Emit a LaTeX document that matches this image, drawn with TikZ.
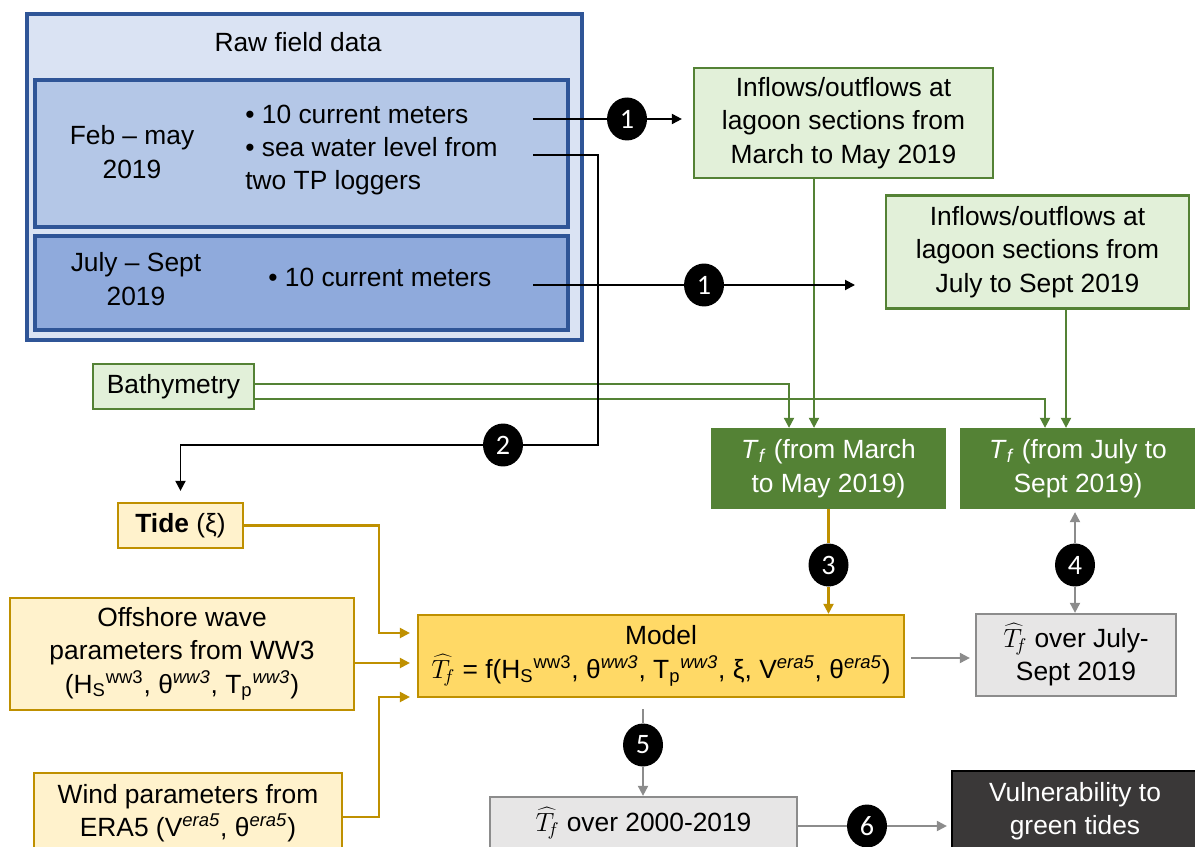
\RequirePackage{fix-cm}
\documentclass[tikz,border=0pt]{standalone}
\usepackage{fontspec}
\setmainfont{Liberation Sans}
\newfontfamily\numfont{Carlito}
\usetikzlibrary{arrows.meta,calc,shapes.geometric}
\definecolor{rawline}{HTML}{2F5597}
\definecolor{rawfill}{HTML}{DAE3F3}
\definecolor{febfill}{HTML}{B4C7E7}
\definecolor{julfill}{HTML}{8FAADC}
\definecolor{grnline}{HTML}{548235}
\definecolor{grnfill}{HTML}{E2F0D9}
\definecolor{goldline}{HTML}{BF9000}
\definecolor{goldfill}{HTML}{FFF2CC}
\definecolor{modelfill}{HTML}{FFD966}
\definecolor{greyline}{HTML}{8C8C8C}
\definecolor{greyfill}{HTML}{E7E6E6}
\definecolor{darkfill}{HTML}{3A3838}

\begin{document}
\begin{tikzpicture}[x=0.02cm,y=-0.02cm,>={Triangle[length=0.2cm,width=0.2cm]},
  every node/.style={font=\fontsize{15}{19}\selectfont},
  txt/.style={inner sep=0pt,align=center},
  box/.style={draw,line width=1.3pt,inner sep=2pt,align=center},
  bluebox/.style={box,draw=rawline,line width=1.8pt},
  greenbox/.style={box,draw=grnline,fill=grnfill},
  tfbox/.style={box,draw=grnline,fill=grnline,text=white},
  goldbox/.style={box,draw=goldline,fill=goldfill},
  greybox/.style={box,draw=greyline,fill=greyfill},
  num/.style={ellipse,fill=black,text=white,minimum width=0.8cm,minimum height=0.86cm,
    inner sep=0pt,font=\numfont\fontsize{16}{16}\selectfont},
  blk/.style={line width=1.1pt,->},
  garr/.style={grnline,line width=1.1pt,->},
  yarr/.style={goldline,line width=1.2pt,->},
  gyarr/.style={greyline,line width=1.1pt,->}]
\useasboundingbox (0,0) rectangle (1195,847);
\clip (0,0) rectangle (1195,847);

% raw field data
\node[bluebox,fill=rawfill,minimum width=11.1cm,minimum height=6.52cm] (raw) at (304.5,177) {};
\node[txt] (rawtitle) at (298,42) {Raw field data};
\node[bluebox,fill=febfill,minimum width=10.66cm,minimum height=2.94cm] (feb) at (301.5,153.5) {};
\node[txt] (febdate) at (132,152) {Feb -- may\\2019};
\node[txt,anchor=west,align=left] (febdata) at (245,150)
  {• 10 current meters\\• sea water level from\\two TP loggers};
\node[bluebox,fill=julfill,minimum width=10.66cm,minimum height=1.88cm] (jul) at (301.5,283) {};
\node[txt] (juldate) at (136,279) {July -- Sept\\2019};
\node[txt,anchor=west] (juldata) at (268,277) {• 10 current meters};

% green column
\node[greenbox,minimum width=5.98cm,minimum height=2.2cm] (inflowA) at (843.5,123)
  {Inflows/outflows at\\lagoon sections from\\March to May 2019};
\node[greenbox,minimum width=6.06cm,minimum height=2.26cm] (inflowB) at (1037.5,252)
  {Inflows/outflows at\\lagoon sections from\\July to Sept 2019};
\node[greenbox,minimum width=3.22cm,minimum height=0.9cm] (bathy) at (173.5,386.5) {Bathymetry};
\node[tfbox,minimum width=4.66cm,minimum height=1.58cm] (tfA) at (828.5,468.5)
  {\textit{T}\textsubscript{\textit{f}} (from March\\to May 2019)};
\node[tfbox,minimum width=4.66cm,minimum height=1.58cm] (tfB) at (1078,468.5)
  {\textit{T}\textsubscript{\textit{f}} (from July to\\Sept 2019)};

% forcings and model
\node[goldbox,minimum width=2.5cm,minimum height=0.9cm] (tide) at (180.5,525.5) {\textbf{Tide} (ξ)};
\node[goldbox,minimum width=6.88cm,minimum height=2.24cm] (wave) at (182,654)
  {Offshore wave\\parameters from WW3\\(H\textsubscript{S}\textsuperscript{ww3}, θ\textsuperscript{\textit{ww3}}, T\textsubscript{p}\textsuperscript{\textit{ww3}})};
\node[goldbox,minimum width=6.16cm,minimum height=1.6cm] (wind) at (188,813)
  {Wind parameters from\\ERA5 (V\textsuperscript{\textit{era5}}, θ\textsuperscript{\textit{era5}})};
\node[goldbox,fill=modelfill,minimum width=9.72cm,minimum height=1.64cm] (model) at (661,656)
  {Model\\$\widehat{T}_{\!f}$ = f(H\textsubscript{S}\textsuperscript{ww3}, θ\textsuperscript{\textit{ww3}}, T\textsubscript{p}\textsuperscript{\textit{ww3}}, ξ, V\textsuperscript{\textit{era5}}, θ\textsuperscript{\textit{era5}})};

% outputs
\node[greybox,minimum width=4.0cm,minimum height=1.64cm] (tjs) at (1076,655)
  {$\widehat{T}_{\!f}$ over July-\\Sept 2019};
\node[greybox,minimum width=6.14cm,minimum height=1.04cm] (t2000) at (643.5,823)
  {$\widehat{T}_{\!f}$ over 2000-2019};
\node[box,draw=black,fill=darkfill,text=white,minimum width=4.92cm,minimum height=1.6cm] (vuln) at (1075,811)
  {Vulnerability to\\green tides};

% step numbers
\node[num] (n1a) at (627,119) {1};
\node[num] (n1b) at (704,285) {1};
\node[num] (n2) at (503,445) {2};
\node[num] (n3) at (828.5,565) {3};
\node[num] (n4) at (1075,565) {4};
\node[num] (n5) at (643,745) {5};
\node[num] (n6) at (867,826) {6};

\coordinate (f1) at (533,119);
\coordinate (f2) at (533,155);
\coordinate (f3) at (533,285);
\coordinate (e3) at (855,285);
\coordinate (k2) at (598,445);

% green links
\draw[garr] ([xshift=-0.59cm]inflowA.south) -- ([xshift=-0.59cm]inflowA.south |- tfA.north);
\draw[garr] ([xshift=0.57cm]inflowB.south) -- ([xshift=0.57cm]inflowB.south |- tfB.north);
\draw[garr] ([yshift=0.05cm]bathy.east) -| ([xshift=-0.79cm]tfA.north);
\draw[garr] ([yshift=-0.25cm]bathy.east) -| ([xshift=-0.66cm]tfB.north);

% field data links
\draw[blk] (f1) -- (n1a) -- ([xshift=-0.22cm]inflowA.west |- n1a);
\draw[blk] (f2) -| (k2) -- (n2) -| ([yshift=0.22cm]tide.north);
\draw[blk] (f3) -- (n1b) -- (e3);

% model inputs
\draw[yarr,shorten >=0.14cm] (tide.east) -| (379,633) -- (model.west |- 0,633);
\draw[yarr,shorten >=0.14cm] (wave.east |- 0,663) -- (model.west |- 0,663);
\draw[yarr,shorten >=0.14cm] (wind.east |- 0,817) -| (379,697) -- (model.west |- 0,697);
\draw[yarr] (tfA.south) -- (n3) -- (n3 |- model.north);

% model outputs
\draw[gyarr] (n4) -- ([yshift=-0.06cm]n4 |- tfB.south);
\draw[gyarr] (n4) -- (n4 |- tjs.north);
\draw[gyarr,shorten <=0.12cm,shorten >=0.1cm] (model.east |- 0,658) -- (tjs.west |- 0,658);
\draw[gyarr] ([yshift=-0.22cm]model.south -| n5) -- (n5) -- (n5 |- t2000.north);
\draw[gyarr] (t2000.east |- n6) -- (n6) -- ([xshift=-0.08cm]vuln.west |- n6);
\end{tikzpicture}
\end{document}
